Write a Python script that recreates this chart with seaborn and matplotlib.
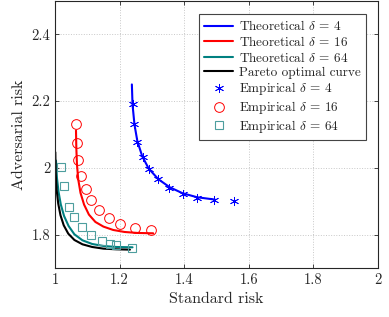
import numpy as np
import pandas as pd
import matplotlib
matplotlib.use("Agg")
import matplotlib.pyplot as plt
import seaborn as sns

sns.set_style("ticks")
plt.rcParams['font.family'] = ['cmr10', 'DejaVu Serif']
plt.rcParams['mathtext.fontset'] = 'cm'
plt.rcParams['axes.formatter.use_mathtext'] = True

# theoretical curves
theo4_x = [1.238, 1.240, 1.246, 1.255, 1.270, 1.290, 1.320, 1.355, 1.395, 1.440, 1.495]
theo4_y = [2.250, 2.190, 2.130, 2.080, 2.035, 1.998, 1.966, 1.942, 1.924, 1.912, 1.905]
theo16_x = [1.065, 1.066, 1.068, 1.072, 1.079, 1.090, 1.105, 1.125, 1.150, 1.180, 1.215, 1.255, 1.304]
theo16_y = [2.112, 2.060, 2.010, 1.965, 1.925, 1.890, 1.860, 1.838, 1.824, 1.814, 1.808, 1.805, 1.804]
theo64_x = [1.003, 1.006, 1.011, 1.018, 1.028, 1.042, 1.060, 1.085, 1.115, 1.150, 1.190, 1.240]
theo64_y = [2.022, 1.970, 1.928, 1.890, 1.856, 1.826, 1.801, 1.783, 1.772, 1.766, 1.763, 1.762]
pareto_x = [1.001, 1.002, 1.005, 1.010, 1.017, 1.027, 1.041, 1.060, 1.085, 1.115, 1.150, 1.190, 1.232]
pareto_y = [2.047, 1.985, 1.935, 1.893, 1.858, 1.828, 1.803, 1.784, 1.771, 1.763, 1.758, 1.756, 1.755]

# empirical points
emp4_x = [1.240, 1.246, 1.255, 1.271, 1.292, 1.320, 1.354, 1.395, 1.440, 1.492, 1.554]
emp4_y = [2.192, 2.130, 2.079, 2.034, 1.996, 1.967, 1.941, 1.923, 1.911, 1.903, 1.902]
emp16_x = [1.066, 1.067, 1.072, 1.080, 1.095, 1.113, 1.137, 1.167, 1.202, 1.247, 1.297]
emp16_y = [2.132, 2.074, 2.024, 1.975, 1.937, 1.903, 1.875, 1.849, 1.831, 1.819, 1.814]
emp64_x = [1.018, 1.029, 1.044, 1.059, 1.084, 1.111, 1.144, 1.171, 1.190, 1.238]
emp64_y = [2.002, 1.947, 1.883, 1.853, 1.823, 1.799, 1.781, 1.771, 1.768, 1.760]

xticks = [1, 1.2, 1.4, 1.6, 1.8, 2]
xtick_labels = ['1', '1.2', '1.4', '1.6', '1.8', '2']
yticks = [1.8, 2.0, 2.2, 2.4]
ytick_labels = ['1.8', '2', '2.2', '2.4']

teal = (0.0, 0.5, 0.5)
teal_light = (0.3, 0.62, 0.62)

fig = plt.figure(figsize=(3.89, 3.17), dpi=100)
ax = fig.add_axes([55 / 389, 49 / 317, 323 / 389, 267 / 317])

lines = [
    (theo4_x, theo4_y, 'blue', r'Theoretical $\delta$ = 4'),
    (theo16_x, theo16_y, 'red', r'Theoretical $\delta$ = 16'),
    (theo64_x, theo64_y, teal, r'Theoretical $\delta$ = 64'),
    (pareto_x, pareto_y, 'black', 'Pareto optimal curve'),
]
for xs, ys, c, lab in lines:
    sns.lineplot(x=xs, y=ys, ax=ax, color=c, lw=1.5, sort=False, estimator=None, label=lab)

sns.lineplot(x=emp4_x, y=emp4_y, ax=ax, estimator=None, sort=False, linestyle='',
             marker=(6, 2, 0), ms=6.5, mec='blue', mew=0.6, color='blue', label=r'Empirical $\delta$ = 4')
sns.lineplot(x=emp16_x, y=emp16_y, ax=ax, estimator=None, sort=False, linestyle='',
             marker='o', ms=7, mfc='none', mec='red', mew=0.7, color='red', label=r'Empirical $\delta$ = 16')
sns.lineplot(x=emp64_x, y=emp64_y, ax=ax, estimator=None, sort=False, linestyle='',
             marker='s', ms=6.3, mfc='none', mec=teal_light, mew=0.8, color=teal_light, label=r'Empirical $\delta$ = 64')

ax.set_xlim(1, 2)
ax.set_ylim(1.7, 2.5)
ax.set_xticks(xticks)
ax.set_xticklabels(xtick_labels)
ax.set_yticks(yticks)
ax.set_yticklabels(ytick_labels)
ax.tick_params(direction='in', top=True, right=True, length=3, labelsize=10.5, width=0.6)
ax.grid(True, linestyle=':', color='#c8c8c8', lw=0.7)
for s in ax.spines.values():
    s.set_linewidth(0.8)
    s.set_visible(True)

ax.set_xlabel('Standard risk', fontsize=11.5)
ax.set_ylabel('Adversarial risk', fontsize=11.5)

leg = ax.legend(loc='upper right', bbox_to_anchor=(0.963, 0.951), borderaxespad=0, fontsize=9.5,
                fancybox=False, edgecolor='#444444', framealpha=1, handlelength=2.2, borderpad=0.4,
                labelspacing=0.13, handletextpad=0.45)
leg.get_frame().set_linewidth(0.8)

fig.savefig('out.png', dpi=100)
